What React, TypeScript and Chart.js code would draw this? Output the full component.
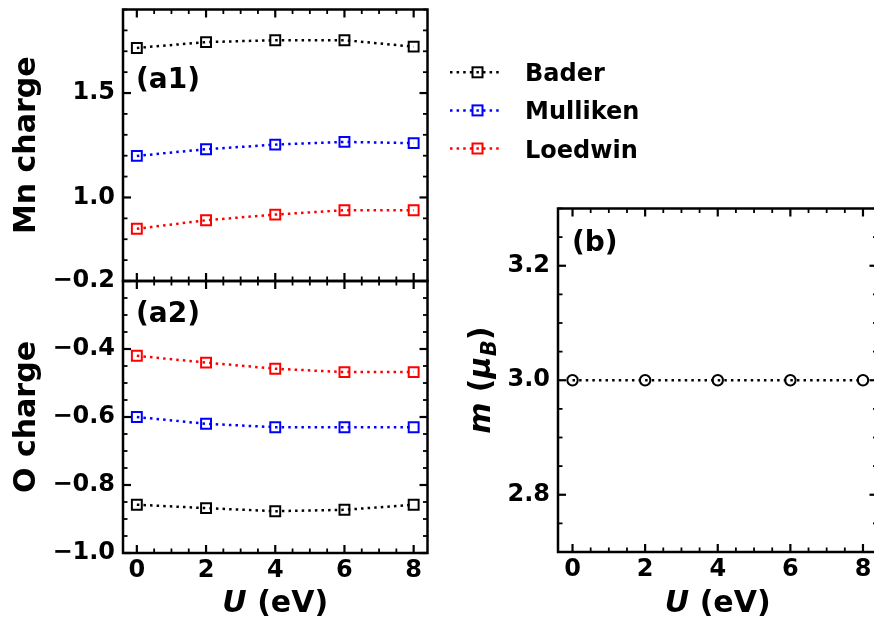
import React, { useEffect, useRef } from 'react';
import { Chart, registerables } from 'chart.js';
Chart.register(...registerables);

// ---------------- data ----------------
const U_VALUES = [0, 2, 4, 6, 8];
const SERIES_NAMES = ['Bader', 'Mulliken', 'Loedwin'];
const SERIES_COLORS = ['#000000', '#0000ff', '#ff0000'];

const MN_BADER = [1.716, 1.744, 1.753, 1.753, 1.722];
const MN_MULLIKEN = [1.199, 1.231, 1.253, 1.266, 1.26];
const MN_LOEDWIN = [0.85, 0.891, 0.918, 0.939, 0.939];

const O_BADER = [-0.858, -0.868, -0.877, -0.873, -0.858];
const O_MULLIKEN = [-0.6, -0.62, -0.63, -0.63, -0.63];
const O_LOEDWIN = [-0.42, -0.44, -0.458, -0.468, -0.468];

const MAG_MOMENT = [3.0, 3.0, 3.0, 3.0, 3.0];

const X_TICKS = [0, 2, 4, 6, 8];
const A1_Y_TICKS = [1.0, 1.5];
const A2_Y_TICKS = [-1.0, -0.8, -0.6, -0.4, -0.2];
const B_Y_TICKS = [2.8, 3.0, 3.2];

const FAMILY = '"DejaVu Sans", "Liberation Sans", sans-serif';
const fmt = (v: number, d: number) => Number(v).toFixed(d).replace('-', '\u2212');

type Piece = { t: string; italic?: boolean; scale?: number; dy?: number };
type Series = { name: string; color: string; values: number[]; marker: string };
type Spec = {
  cw: number;
  ch: number;
  area: { left: number; top: number; right: number; bottom: number };
  yMin: number;
  yMax: number;
  yTicks: number[];
  yMinor: number;
  yDecimals: number;
  showX: boolean;
  series: Series[];
  yTitle: Piece[];
  yTitleX: number;
  xTitle?: Piece[];
  panelLabel: string;
  panelLabelPos: [number, number];
  legend?: boolean;
};

const X_MIN = -0.4;
const X_MAX = 8.4;
const X_MINOR = 0.5;
const TITLE_SIZE = 30;

// multiples of `step` lying inside [min, max]
function minorValues(min: number, max: number, step: number) {
  const k0 = Math.ceil(min / step - 1e-9);
  const k1 = Math.floor(max / step + 1e-9);
  const out: number[] = [];
  for (let k = k0; k <= k1; k++) out.push(k * step);
  return out;
}

function drawPieces(ctx: CanvasRenderingContext2D, pieces: Piece[], size: number, x: number, y: number, rotated: boolean) {
  ctx.save();
  ctx.translate(x, y);
  if (rotated) ctx.rotate(-Math.PI / 2);
  const fontOf = (p: Piece) => `${p.italic ? 'italic ' : ''}bold ${size * (p.scale || 1)}px ${FAMILY}`;
  const widths = pieces.map((p) => {
    ctx.font = fontOf(p);
    return ctx.measureText(p.t).width;
  });
  const total = widths.reduce((a, b) => a + b, 0);
  let cx = -total / 2;
  ctx.fillStyle = '#000';
  ctx.textAlign = 'left';
  ctx.textBaseline = 'alphabetic';
  pieces.forEach((p, i) => {
    ctx.font = fontOf(p);
    ctx.fillText(p.t, cx, p.dy || 0);
    cx += widths[i];
  });
  ctx.restore();
}

function decorPlugin(spec: Spec) {
  return {
    id: 'decor',
    afterDraw(chart: any) {
      const ctx: CanvasRenderingContext2D = chart.ctx;
      const ca = chart.chartArea;
      const L = ca.left;
      const R = ca.right;
      const T = ca.top;
      const B = ca.bottom;
      const xs = chart.scales.x;
      const ys = chart.scales.y;
      ctx.save();
      ctx.globalAlpha = 1;
      ctx.globalCompositeOperation = 'source-over';
      ctx.strokeStyle = '#000000';
      ctx.setLineDash([]);
      ctx.lineCap = 'butt';
      const MAJOR_LEN = 8;
      const MINOR_LEN = 4.5;
      const isMajor = (arr: number[], v: number) => arr.some((m) => Math.abs(m - v) < 1e-6);
      minorValues(X_MIN, X_MAX, X_MINOR).forEach((v) => {
        const px = xs.getPixelForValue(v);
        const major = isMajor(X_TICKS, v);
        const len = major ? MAJOR_LEN : MINOR_LEN;
        ctx.lineWidth = major ? 2.2 : 1.8;
        ctx.beginPath();
        ctx.moveTo(px, B);
        ctx.lineTo(px, B - len);
        ctx.stroke();
        ctx.beginPath();
        ctx.moveTo(px, T);
        ctx.lineTo(px, T + len);
        ctx.stroke();
      });
      minorValues(spec.yMin, spec.yMax, spec.yMinor).forEach((v) => {
        const py = ys.getPixelForValue(v);
        const major = isMajor(spec.yTicks, v);
        const len = major ? MAJOR_LEN : MINOR_LEN;
        ctx.lineWidth = major ? 2.2 : 1.8;
        ctx.beginPath();
        ctx.moveTo(L, py);
        ctx.lineTo(L + len, py);
        ctx.stroke();
        ctx.beginPath();
        ctx.moveTo(R, py);
        ctx.lineTo(R - len, py);
        ctx.stroke();
      });
      // spines
      ctx.lineWidth = 2.5;
      ctx.strokeRect(L, T, R - L, B - T);

      // axis titles
      drawPieces(ctx, spec.yTitle, TITLE_SIZE, spec.yTitleX, (T + B) / 2, true);
      if (spec.xTitle) drawPieces(ctx, spec.xTitle, TITLE_SIZE, (L + R) / 2, 612, false);

      // panel label
      ctx.font = `bold 28px ${FAMILY}`;
      ctx.fillStyle = '#000';
      ctx.textAlign = 'left';
      ctx.textBaseline = 'alphabetic';
      ctx.fillText(spec.panelLabel, spec.panelLabelPos[0], spec.panelLabelPos[1]);

      // legend
      if (spec.legend) {
        chart.data.datasets.forEach((ds: any, i: number) => {
          const y = 72.3 + i * 38.1;
          ctx.strokeStyle = ds.borderColor;
          ctx.lineWidth = 2.5;
          ctx.setLineDash([2.5, 4.1]);
          ctx.beginPath();
          ctx.moveTo(450, y);
          ctx.lineTo(500, y);
          ctx.stroke();
          ctx.setLineDash([]);
          ctx.lineWidth = 2;
          ctx.strokeRect(477.5 - 5, y - 5, 10, 10);
          ctx.font = `bold 24px ${FAMILY}`;
          ctx.fillStyle = '#000';
          ctx.fillText(ds.label, 525, y + 9);
        });
      }
      ctx.restore();
    },
  };
}

function buildChart(canvas: HTMLCanvasElement, spec: Spec) {
  const { area, cw, ch } = spec;
  const tickFont = { family: FAMILY, size: 24, weight: 'bold' as const };
  const zeroPad = (s: any) => {
    s.paddingLeft = 0;
    s.paddingRight = 0;
    s.paddingTop = 0;
    s.paddingBottom = 0;
  };
  return new Chart(canvas, {
    type: 'line',
    data: {
      datasets: spec.series.map((s) => ({
        label: s.name,
        data: U_VALUES.map((u, i) => ({ x: u, y: s.values[i] })),
        borderColor: s.color,
        backgroundColor: 'rgba(0,0,0,0)',
        borderWidth: 2.5,
        borderDash: [2.5, 4.1],
        borderCapStyle: 'butt',
        pointStyle: s.marker as any,
        pointRadius: s.marker === 'rect' ? 7 : 5.2,
        pointBorderWidth: 2,
        pointBorderColor: s.color,
        pointBackgroundColor: 'rgba(0,0,0,0)',
        tension: 0,
        fill: false,
      })),
    },
    options: {
      animation: false,
      responsive: false,
      devicePixelRatio: 1,
      events: [],
      layout: {
        padding: {
          left: 0,
          top: area.top,
          right: cw - area.right,
          bottom: spec.showX ? 0 : ch - area.bottom,
        },
      },
      plugins: { legend: { display: false }, tooltip: { enabled: false }, title: { display: false } },
      scales: {
        x: {
          type: 'linear',
          min: X_MIN,
          max: X_MAX,
          bounds: 'data',
          grid: { display: false, drawTicks: false, tickLength: 0 },
          border: { display: false },
          ticks: {
            display: spec.showX,
            autoSkip: false,
            maxRotation: 0,
            padding: 3,
            color: '#000',
            font: tickFont,
            callback: (v: any) => fmt(v, 0),
          },
          afterBuildTicks: (s: any) => {
            s.ticks = X_TICKS.map((v) => ({ value: v }));
          },
          afterFit: (s: any) => {
            s.height = spec.showX ? ch - area.bottom : 0;
            zeroPad(s);
          },
        },
        y: {
          type: 'linear',
          min: spec.yMin,
          max: spec.yMax,
          bounds: 'data',
          grid: { display: false, drawTicks: false, tickLength: 0 },
          border: { display: false },
          ticks: {
            autoSkip: false,
            padding: 8,
            color: '#000',
            font: tickFont,
            callback: (v: any) => fmt(v, spec.yDecimals),
          },
          afterBuildTicks: (s: any) => {
            s.ticks = spec.yTicks.map((v) => ({ value: v }));
          },
          afterFit: (s: any) => {
            s.width = area.left;
            zeroPad(s);
          },
        },
      },
    } as any,
    plugins: [decorPlugin(spec)],
  });
}

const chargeSeries = (vals: number[][]): Series[] =>
  SERIES_NAMES.map((n, i) => ({ name: n, color: SERIES_COLORS[i], values: vals[i], marker: 'rect' }));

const SPEC_A1: Spec = {
  cw: 874,
  ch: 620,
  area: { left: 123, top: 9.5, right: 427.5, bottom: 281 },
  yMin: 0.6,
  yMax: 1.9,
  yTicks: A1_Y_TICKS,
  yMinor: 0.1,
  yDecimals: 1,
  showX: false,
  series: chargeSeries([MN_BADER, MN_MULLIKEN, MN_LOEDWIN]),
  yTitle: [{ t: 'Mn charge' }],
  yTitleX: 35,
  panelLabel: '(a1)',
  panelLabelPos: [136, 88],
  legend: true,
};

const SPEC_A2: Spec = {
  cw: 874,
  ch: 620,
  area: { left: 123, top: 281, right: 427.5, bottom: 553 },
  yMin: -1.0,
  yMax: -0.2,
  yTicks: A2_Y_TICKS,
  yMinor: 0.05,
  yDecimals: 1,
  showX: true,
  series: chargeSeries([O_BADER, O_MULLIKEN, O_LOEDWIN]),
  yTitle: [{ t: 'O charge' }],
  yTitleX: 35,
  xTitle: [{ t: 'U', italic: true }, { t: ' (eV)' }],
  panelLabel: '(a2)',
  panelLabelPos: [136, 322],
};

const SPEC_B: Spec = {
  cw: 900,
  ch: 620,
  area: { left: 558, top: 208.5, right: 877.5, bottom: 552 },
  yMin: 2.7,
  yMax: 3.3,
  yTicks: B_Y_TICKS,
  yMinor: 0.05,
  yDecimals: 1,
  showX: true,
  series: [{ name: 'm', color: '#000000', values: MAG_MOMENT, marker: 'circle' }],
  yTitle: [{ t: 'm', italic: true }, { t: ' (' }, { t: '\u03bc', italic: true }, { t: 'B', italic: true, scale: 0.7, dy: 6 }, { t: ')' }],
  yTitleX: 490,
  xTitle: [{ t: 'U', italic: true }, { t: ' (eV)' }],
  panelLabel: '(b)',
  panelLabelPos: [572, 251],
};

function Panel({ spec }: { spec: Spec }) {
  const ref = useRef<HTMLCanvasElement | null>(null);
  useEffect(() => {
    if (!ref.current) return;
    const c = buildChart(ref.current, spec);
    return () => c.destroy();
  }, [spec]);
  return (
    <canvas
      ref={ref}
      width={spec.cw}
      height={spec.ch}
      style={{ position: 'absolute', left: 0, top: 0, width: spec.cw, height: spec.ch }}
    />
  );
}

export default function App() {
  return (
    <div
      style={{
        position: 'fixed',
        left: 0,
        top: 0,
        width: 874,
        height: 620,
        overflow: 'hidden',
        background: '#fff',
      }}
    >
      <Panel spec={SPEC_A1} />
      <Panel spec={SPEC_A2} />
      <Panel spec={SPEC_B} />
    </div>
  );
}
